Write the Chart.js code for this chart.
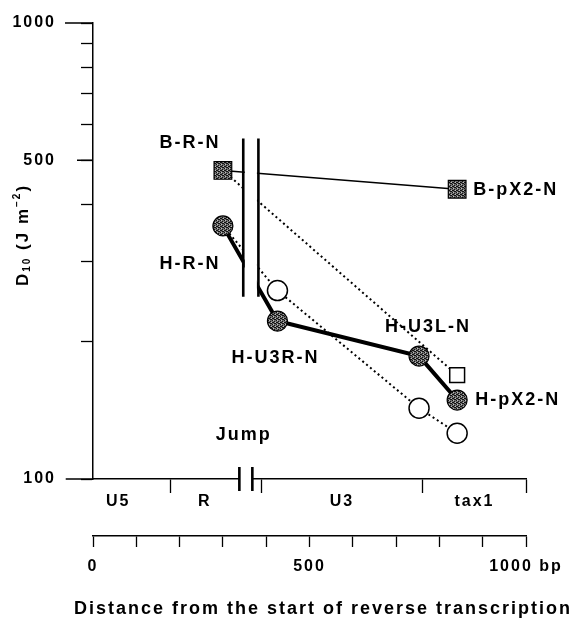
<!DOCTYPE html>
<html>
<head>
<meta charset="utf-8">
<script src="https://cdn.jsdelivr.net/npm/chart.js@4.4.1/dist/chart.umd.min.js"></script>
<style>
  html, body { margin: 0; padding: 0; background: #fff; }
</style>
</head>
<body>
<canvas id="c" width="586" height="621"></canvas>
<script>
// distance from start of reverse transcription (bp) and D10 (J m-2)
const bX = [300, 841];
const bFilled = [475, 432];          // B-R-N -> B-pX2-N
const bOpen = [475, 169];            // B-R-N -> open square
const hX = [300, 426, 753, 841];
const hFilled = [359, 222, 186, 149]; // H-R-N, H-U3R-N, H-U3L-N, H-pX2-N
const hOpen = [359, 259, 143, 126];

const yTicks = [100, 200, 300, 400, 500, 600, 700, 800, 900, 1000];
const yLabels = [100, 500, 1000];
const bpTicks = [0, 100, 200, 300, 400, 500, 600, 700, 800, 900, 1000];
const bpLabels = { 0: '0', 500: '500', 1000: '1000 bp' };

const regionNames = ['U5', 'R', 'U3', 'tax1'];
const regionMid = [58, 258, 575, 881];
const regionBounds = [179, 389, 762, 1000];
const regionStart = -63;
const axisBreak = [338, 368];
const jumpBars = [347, 382];
const jumpRange = [251, 558];

const notes = [
  { t: 'B-R-N', x: bX[0], y: bFilled[0], dx: -33, dy: -27, al: 'center' },
  { t: 'H-R-N', x: hX[0], y: hFilled[0], dx: -33, dy: 38, al: 'center' },
  { t: 'B-pX2-N', x: bX[1], y: bFilled[1], dx: 16, dy: 1, al: 'left' },
  { t: 'H-U3R-N', x: hX[1], y: hFilled[1], dx: -2, dy: 37, al: 'center' },
  { t: 'H-U3L-N', x: hX[2], y: hFilled[2], dx: 9, dy: -29, al: 'center' },
  { t: 'H-pX2-N', x: hX[3], y: hFilled[3], dx: 18, dy: 0, al: 'left' }
];

const FONT = "'Liberation Sans', Arial, sans-serif";
Chart.defaults.font.family = FONT;
Chart.defaults.font.weight = 'bold';
Chart.defaults.font.size = 16;
Chart.defaults.color = '#000';

const canvas = document.getElementById('c');
const ctx = canvas.getContext('2d');

// stippled grey fill like the printed symbols
const tile = document.createElement('canvas');
tile.width = 4; tile.height = 4;
const tc = tile.getContext('2d');
tc.fillStyle = '#6e6e6e';
tc.fillRect(0, 0, 4, 4);
tc.fillStyle = '#111';
[[0, 0], [2, 1], [1, 2], [3, 3], [2, 3], [0, 2]].forEach(p => tc.fillRect(p[0], p[1], 1, 1));
tc.fillStyle = '#bdbdbd';
[[1, 0], [3, 2]].forEach(p => tc.fillRect(p[0], p[1], 1, 1));
const stipple = ctx.createPattern(tile, 'repeat');

const pts = (xs, ys) => xs.map((x, i) => ({ x: x, y: ys[i] }));

const deco = {
  id: 'deco',
  beforeDraw(chart) {
    chart.ctx.letterSpacing = '2px';
  },
  afterDatasetsDraw(chart) {
    const c = chart.ctx, x = chart.scales.x, y = chart.scales.y;
    const x1 = x.getPixelForValue(jumpBars[0]), x2 = x.getPixelForValue(jumpBars[1]);
    const yb = y.getPixelForValue(jumpRange[0]), yt = y.getPixelForValue(jumpRange[1]);
    c.save();
    c.fillStyle = '#fff';
    c.fillRect(x1 + 1.5, yt, x2 - x1 - 3, yb - yt);
    c.strokeStyle = '#000';
    c.lineWidth = 2.6;
    c.beginPath();
    c.moveTo(x1, yt); c.lineTo(x1, yb);
    c.moveTo(x2, yt); c.lineTo(x2, yb);
    c.stroke();
    c.restore();
  },
  afterDraw(chart) {
    const c = chart.ctx, x = chart.scales.x, y = chart.scales.y;
    const area = chart.chartArea;
    c.save();
    c.strokeStyle = '#000';
    // region axis carried left past the y axis
    c.lineWidth = 1.5;
    c.beginPath();
    c.moveTo(x.getPixelForValue(regionStart), area.bottom);
    c.lineTo(area.left, area.bottom);
    // longer ticks at labelled values
    c.moveTo(area.left - 28, y.getPixelForValue(1000));
    c.lineTo(area.left, y.getPixelForValue(1000));
    c.moveTo(area.left - 16, y.getPixelForValue(500));
    c.lineTo(area.left, y.getPixelForValue(500));
    c.stroke();
    // break in the region axis
    const b1 = x.getPixelForValue(axisBreak[0]), b2 = x.getPixelForValue(axisBreak[1]);
    c.fillStyle = '#fff';
    c.fillRect(b1, area.bottom - 2, b2 - b1, 4);
    c.lineWidth = 2.6;
    c.beginPath();
    c.moveTo(b1, area.bottom - 12); c.lineTo(b1, area.bottom + 12);
    c.moveTo(b2, area.bottom - 12); c.lineTo(b2, area.bottom + 12);
    c.stroke();

    c.fillStyle = '#000';
    c.font = 'bold 18px ' + FONT;
    c.textBaseline = 'middle';
    notes.forEach(n => {
      c.textAlign = n.al;
      c.fillText(n.t, x.getPixelForValue(n.x) + n.dx, y.getPixelForValue(n.y) + n.dy);
    });
    c.textAlign = 'center';
    c.fillText('Jump', (x.getPixelForValue(jumpBars[0]) + x.getPixelForValue(jumpBars[1])) / 2 - 7, area.bottom - 44);

    // x axis title (drawn here so it is not squeezed to the plot width)
    c.fillText('Distance from the start of reverse transcription', 323, 609);

    // y axis title with sub- and superscript
    const parts = [
      ['D', 17, 0], ['10', 10, 4], [' (J m', 17, 0], ['\u22122', 10, -6], [')', 17, 0]
    ];
    let total = 0;
    parts.forEach(p => { c.font = 'bold ' + p[1] + 'px ' + FONT; total += c.measureText(p[0]).width; });
    c.translate(23, 235);
    c.rotate(-Math.PI / 2);
    c.textAlign = 'left';
    let px = -total / 2;
    parts.forEach(p => {
      c.font = 'bold ' + p[1] + 'px ' + FONT;
      c.fillText(p[0], px, p[2]);
      px += c.measureText(p[0]).width;
    });
    c.restore();
  }
};

new Chart(ctx, {
  type: 'line',
  data: {
    datasets: [
      {
        data: pts(hX, hFilled), borderColor: '#000', borderWidth: 4,
        pointStyle: 'circle', pointRadius: 10, pointBackgroundColor: stipple,
        pointBorderColor: '#000', pointBorderWidth: 1.2
      },
      {
        data: pts(bX, bFilled), borderColor: '#000', borderWidth: 1.5,
        pointStyle: 'rect', pointRadius: 12.5, pointBackgroundColor: stipple,
        pointBorderColor: '#000', pointBorderWidth: 1.2
      },
      {
        data: pts(hX, hOpen), borderColor: '#000', borderWidth: 2, borderDash: [2, 3],
        pointStyle: 'circle', pointRadius: [0, 10, 10, 10], pointBackgroundColor: '#fff',
        pointBorderColor: '#000', pointBorderWidth: 1.5
      },
      {
        data: pts(bX, bOpen), borderColor: '#000', borderWidth: 2, borderDash: [2, 3],
        pointStyle: 'rect', pointRadius: [0, 10.5], pointBackgroundColor: '#fff',
        pointBorderColor: '#000', pointBorderWidth: 1.5
      }
    ]
  },
  options: {
    responsive: false,
    animation: false,
    layout: { padding: { top: 23, right: 60, left: 0, bottom: 0 } },
    plugins: { legend: { display: false }, tooltip: { enabled: false } },
    scales: {
      x: {
        type: 'linear', position: 'bottom', min: 0, max: 1000,
        afterBuildTicks: s => {
          s.ticks = regionBounds.concat(regionMid).sort((a, b) => a - b).map(v => ({ value: v }));
        },
        ticks: {
          autoSkip: false, maxRotation: 0, padding: 1,
          font: { size: 16, lineHeight: 1 },
          callback: v => { const i = regionMid.indexOf(v); return i >= 0 ? regionNames[i] : ''; }
        },
        grid: {
          drawOnChartArea: false, tickLength: 14, tickWidth: 1.3,
          tickColor: c => (c.tick && regionBounds.includes(c.tick.value)) ? '#000' : 'rgba(0,0,0,0)'
        },
        border: { color: '#000', width: 1.5 },
        afterFit: s => { s.height = 57; }
      },
      xbp: {
        type: 'linear', axis: 'x', position: 'bottom', min: 0, max: 1000,
        afterBuildTicks: s => { s.ticks = bpTicks.map(v => ({ value: v })); },
        ticks: {
          autoSkip: false, maxRotation: 0, padding: 12,
          font: { size: 16, lineHeight: 1 },
          callback: v => bpLabels[v] !== undefined ? bpLabels[v] : ''
        },
        grid: { drawOnChartArea: false, tickLength: 11, tickWidth: 1.3, tickColor: '#000' },
        border: { color: '#000', width: 1.5 },
        afterFit: s => { s.height = 85; }
      },
      y: {
        type: 'logarithmic', position: 'left', min: 100, max: 1000,
        afterBuildTicks: s => { s.ticks = yTicks.map(v => ({ value: v })); },
        ticks: {
          autoSkip: false, padding: 25,
          font: { size: 16, lineHeight: 1 },
          callback: v => yLabels.includes(v) ? String(v) : ''
        },
        grid: { drawOnChartArea: false, tickLength: 12, tickWidth: 1.3, tickColor: '#000' },
        border: { color: '#000', width: 1.5 },
        afterFit: s => { s.width = 93; s.paddingTop = 0; s.paddingBottom = 0; }
      }
    }
  },
  plugins: [deco]
});
</script>
</body>
</html>
